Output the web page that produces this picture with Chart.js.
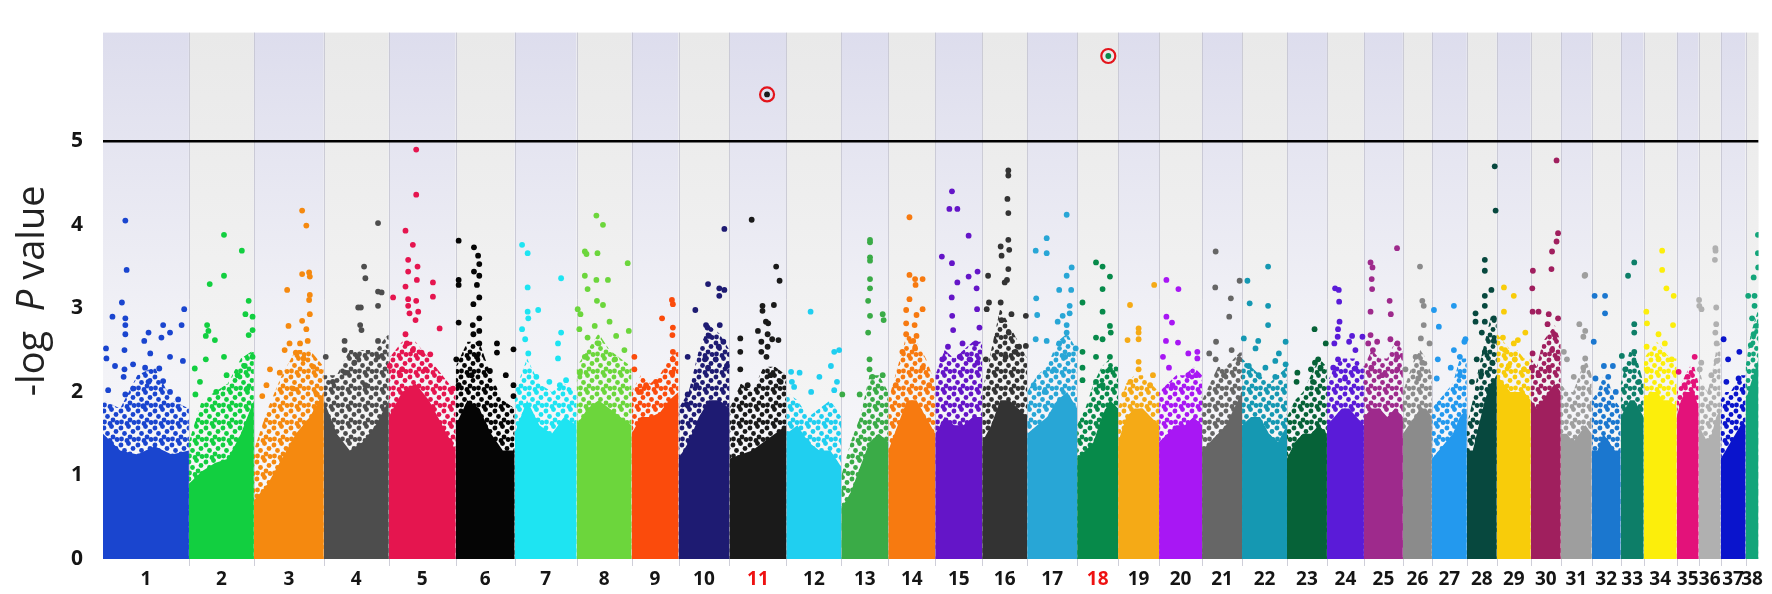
<!DOCTYPE html>
<html>
<head>
<meta charset="utf-8">
<script src="https://cdn.jsdelivr.net/npm/chart.js@4.4.1/dist/chart.umd.min.js"></script>
<style>
  html, body { margin: 0; padding: 0; background: #fff; }
  canvas { display: block; }
</style>
</head>
<body>
<canvas id="manhattan" width="1772" height="594"></canvas>
<script>
// chromosome names, relative lengths (axis units) and colours
const chromNames = ['1','2','3','4','5','6','7','8','9','10','11','12','13','14','15','16','17','18','19','20',
  '21','22','23','24','25','26','27','28','29','30','31','32','33','34','35','36','37','38'];
const chromLengths = [86,65,70,65,67,59,62,55,47,51,57,55,47,47,47,45,50,41,41,43,
  40,45,40,37,39,29,35,30,34,30,31,29,23,33,22,22,25,13];
const chromColors = ['#1a45cf','#12cf40','#f5890f','#4d4d4d','#e5154f','#050505','#1ee4f2','#6cd63c','#fb4b0c','#1e1b72',
  '#1a1a1a','#20cff0','#3aab47','#f77a10','#6415c8','#333333','#28a6d6','#078a4a','#f5aa16','#a817f4',
  '#666666','#1598b2','#066238','#5a1bd8','#9e2a8c','#8b8b8b','#2399ee','#07483e','#f8cc0a','#a01f5e',
  '#9e9e9e','#1b77cf','#0d7e68','#fcee0b','#e3127a','#b0b0b0','#0a14cc','#13a57a'];

// -log P level up to which the SNP cloud is solid (read at 6 even steps across each chromosome)
const massTop = [
  [1.5,1.3,1.25,1.35,1.25,1.3],[0.9,1.05,1.15,1.2,1.5,1.9],[0.7,0.9,1.2,1.5,1.7,2.0],[1.9,1.5,1.3,1.4,1.6,1.9],
  [1.7,2.0,2.1,1.9,1.6,1.3],[1.6,1.9,1.8,1.5,1.3,1.3],[1.5,1.9,1.6,1.5,1.7,1.6],[1.6,1.8,1.9,1.8,1.7,1.6],
  [1.5,1.7,1.7,1.75,1.9,2.0],[1.2,1.4,1.7,1.9,1.9,1.8],[1.2,1.25,1.3,1.4,1.5,1.6],[1.5,1.6,1.4,1.3,1.3,1.1],
  [0.6,0.8,1.1,1.4,1.5,1.4],[1.3,1.6,1.9,1.9,1.7,1.5],[1.5,1.7,1.6,1.6,1.7,1.7],[1.4,1.6,1.9,1.9,1.8,1.7],
  [1.5,1.6,1.7,1.9,2.0,1.8],[1.2,1.3,1.4,1.7,1.9,1.8],[1.4,1.7,1.8,1.8,1.7,1.6],[1.4,1.5,1.6,1.6,1.7,1.6],
  [1.3,1.4,1.5,1.6,1.8,2.0],[1.6,1.7,1.7,1.5,1.4,1.6],[1.2,1.4,1.5,1.5,1.6,1.5],[1.6,1.7,1.8,1.8,1.7,1.6],
  [1.7,1.8,1.8,1.7,1.8,1.7],[1.5,1.6,1.7,1.8,1.8,1.7],[1.2,1.3,1.4,1.5,1.7,1.8],[1.3,1.3,1.6,1.9,2.1,2.2],
  [2.2,2.1,2.0,2.0,2.0,1.9],[1.9,1.8,1.9,2.0,2.1,2.0],[1.5,1.5,1.4,1.5,1.6,1.5],[1.3,1.3,1.5,1.4,1.3,1.3],
  [1.7,1.8,1.9,1.9,1.8,1.7],[1.9,2.0,2.0,1.9,1.9,1.8],[1.7,1.9,2.0,2.0,2.0,1.8],[1.6,1.5,1.4,1.5,1.7,1.8],
  [1.2,1.3,1.4,1.5,1.6,1.6],[1.9,2.0,2.1,2.2,2.3,2.4]
];
// -log P level up to which the cloud is still dense
const cloudTop = [
  [1.9,1.8,2.2,2.3,1.9,1.8],[1.4,1.9,2.0,2.1,2.4,2.5],[1.3,1.8,2.2,2.5,2.5,2.3],[2.2,2.2,2.5,2.5,2.5,2.7],
  [2.4,2.6,2.6,2.4,2.2,2.0],[2.3,2.6,2.6,2.2,1.9,1.8],[2.0,2.4,2.1,2.0,2.1,2.0],[2.3,2.5,2.7,2.5,2.4,2.3],
  [2.0,2.2,2.1,2.2,2.4,2.5],[1.8,2.0,2.5,2.8,2.7,2.5],[1.8,2.1,2.0,2.3,2.3,2.2],[2.0,1.9,1.7,1.8,1.9,1.7],
  [1.0,1.4,1.7,2.2,2.2,2.0],[1.9,2.3,2.7,2.6,2.4,2.1],[2.2,2.5,2.4,2.5,2.6,2.6],[2.0,2.5,3.0,2.8,2.6,2.4],
  [2.0,2.2,2.3,2.6,2.7,2.5],[1.6,1.8,2.1,2.3,2.4,2.3],[1.8,2.1,2.2,2.2,2.1,2.0],[2.0,2.1,2.2,2.2,2.3,2.2],
  [1.9,2.1,2.3,2.3,2.4,2.5],[2.4,2.3,2.2,2.1,2.2,2.3],[1.7,1.9,2.0,2.2,2.4,2.3],[2.1,2.3,2.4,2.4,2.4,2.3],
  [2.3,2.5,2.4,2.4,2.6,2.5],[2.0,2.2,2.4,2.5,2.4,2.2],[1.8,1.9,2.0,2.1,2.4,2.4],[1.6,1.9,2.3,2.6,2.9,2.9],
  [2.7,2.6,2.5,2.5,2.4,2.4],[2.4,2.3,2.6,2.7,2.8,2.6],[2.1,2.0,2.0,2.2,2.4,2.2],[1.9,2.0,2.2,2.1,1.9,1.8],
  [2.1,2.3,2.5,2.5,2.3,2.1],[2.4,2.5,2.6,2.5,2.4,2.4],[2.0,2.1,2.2,2.3,2.3,2.1],[2.3,2.1,2.0,2.2,2.5,2.6],
  [1.9,2.0,2.0,2.1,2.2,2.2],[2.3,2.5,2.7,2.8,2.9,3.0]
];
// individual SNPs above the cloud: [position as fraction of chromosome, -log P]
const hits = [
  [[0.26,4.05],[0.275,3.46],[0.22,3.07],[0.11,2.90],[0.26,2.88],[0.26,2.80],[0.945,2.99],[0.70,2.80],[0.915,2.80],[0.53,2.71],[0.78,2.71],[0.26,2.69],[0.48,2.61],[0.68,2.65],[0.035,2.52],[0.78,2.42],[0.93,2.37],[0.55,2.46],[0.25,2.50],[0.04,2.40],[0.14,2.31],[0.35,2.33],[0.655,2.28],[0.25,2.27],[0.49,2.29],[0.24,2.18],[0.53,2.12],[0.70,2.13],[0.06,2.02],[0.35,2.04],[0.78,2.00],[0.26,1.97],[0.47,1.83],[0.875,1.91]],
  [[0.54,3.88],[0.815,3.69],[0.54,3.39],[0.32,3.29],[0.92,3.09],[0.87,2.93],[0.98,2.90],[0.28,2.80],[0.30,2.73],[0.26,2.67],[0.40,2.62],[0.98,2.74],[0.92,2.68],[0.54,2.42],[0.98,2.42],[0.26,2.39],[0.09,2.28],[0.86,2.31],[0.58,2.20],[0.17,2.12],[0.75,2.20],[0.10,1.97],[0.42,2.00],[0.90,2.04]],
  [[0.69,4.17],[0.75,3.99],[0.69,3.41],[0.79,3.43],[0.80,3.38],[0.476,3.22],[0.80,3.16],[0.79,3.10],[0.80,2.93],[0.69,2.85],[0.495,2.79],[0.75,2.75],[0.77,2.61],[0.51,2.58],[0.66,2.58],[0.44,2.50],[0.60,2.47],[0.71,2.40],[0.23,2.27],[0.37,2.23],[0.85,2.30],[0.18,2.08],[0.56,2.04],[0.12,1.95],[0.90,1.97]],
  [[0.835,4.02],[0.62,3.50],[0.64,3.36],[0.835,3.20],[0.89,3.19],[0.53,3.01],[0.57,3.01],[0.835,3.03],[0.58,2.74],[0.56,2.80],[0.32,2.61],[0.835,2.61],[0.32,2.50],[0.52,2.42],[0.03,2.42],[0.47,2.35],[0.835,2.42],[0.33,2.23],[0.14,2.12],[0.64,2.08]],
  [[0.41,4.90],[0.41,4.36],[0.25,3.93],[0.36,3.76],[0.29,3.58],[0.29,3.44],[0.43,3.50],[0.42,3.34],[0.25,3.26],[0.66,3.31],[0.66,3.14],[0.065,3.13],[0.29,3.11],[0.41,3.09],[0.29,3.03],[0.31,2.94],[0.44,2.96],[0.40,2.86],[0.76,2.76],[0.25,2.69],[0.27,2.58],[0.36,2.50],[0.49,2.47],[0.62,2.45],[0.015,2.31],[0.20,2.27],[0.55,2.27],[0.76,2.16],[0.96,2.04],[0.17,2.20]],
  [[0.05,3.81],[0.31,3.73],[0.38,3.63],[0.40,3.53],[0.31,3.44],[0.40,3.39],[0.05,3.34],[0.05,3.28],[0.36,3.28],[0.40,3.13],[0.30,3.05],[0.05,2.83],[0.29,2.80],[0.40,2.88],[0.40,2.73],[0.30,2.69],[0.40,2.58],[0.70,2.58],[0.98,2.51],[0.70,2.47],[0.01,2.39],[0.36,2.42],[0.85,2.20],[0.98,2.08],[0.27,2.20],[0.58,2.25],[0.05,2.08],[0.98,1.95]],
  [[0.12,3.76],[0.21,3.66],[0.75,3.36],[0.21,3.25],[0.21,2.96],[0.38,2.98],[0.22,2.88],[0.12,2.75],[0.75,2.71],[0.17,2.63],[0.70,2.58],[0.22,2.46],[0.70,2.40],[0.83,2.14],[0.56,2.12],[0.73,2.08],[0.35,2.18]],
  [[0.36,4.11],[0.48,4.00],[0.15,3.68],[0.18,3.65],[0.38,3.66],[0.93,3.54],[0.15,3.39],[0.36,3.34],[0.57,3.34],[0.20,3.23],[0.37,3.09],[0.48,3.04],[0.02,2.99],[0.07,2.93],[0.33,2.79],[0.60,2.84],[0.95,2.73],[0.05,2.75],[0.20,2.65],[0.72,2.67],[0.40,2.58],[0.87,2.50],[0.15,2.42],[0.70,2.39],[0.06,2.23]],
  [[0.88,3.05],[0.86,3.10],[0.65,2.88],[0.88,2.77],[0.87,2.68],[0.88,2.48],[0.88,2.39],[0.87,2.23],[0.06,2.42],[0.06,2.27],[0.31,2.08],[0.52,2.12],[0.20,2.00]],
  [[0.90,3.95],[0.58,3.29],[0.80,3.24],[0.90,3.22],[0.80,3.15],[0.33,2.98],[0.54,2.80],[0.57,2.77],[0.81,2.80],[0.60,2.67],[0.88,2.60],[0.79,2.54],[0.18,2.42],[0.52,2.39],[0.73,2.39],[0.58,2.29],[0.95,2.31],[0.18,1.97],[0.16,1.85],[0.35,2.08]],
  [[0.66,5.56],[0.39,4.06],[0.82,3.50],[0.88,3.33],[0.78,3.04],[0.58,3.03],[0.58,2.97],[0.64,2.84],[0.68,2.82],[0.50,2.73],[0.67,2.69],[0.75,2.63],[0.86,2.62],[0.19,2.64],[0.19,2.48],[0.56,2.60],[0.67,2.54],[0.56,2.48],[0.65,2.42],[0.19,2.27],[0.72,2.20],[0.90,2.12],[0.32,2.08]],
  [[0.44,2.96],[0.87,2.48],[0.96,2.50],[0.81,2.31],[0.085,2.24],[0.24,2.23],[0.10,2.12],[0.14,2.06],[0.60,2.18],[0.92,2.12],[0.87,2.02],[0.45,2.00]],
  [[0.61,3.82],[0.61,3.79],[0.61,3.61],[0.61,3.57],[0.61,3.35],[0.61,3.24],[0.57,3.09],[0.61,2.91],[0.88,2.93],[0.90,2.86],[0.57,2.71],[0.60,2.39],[0.60,2.27],[0.66,2.18],[0.88,2.20],[0.02,1.97],[0.39,1.97]],
  [[0.45,4.09],[0.45,3.40],[0.57,3.35],[0.73,3.35],[0.58,3.28],[0.45,3.11],[0.73,2.99],[0.38,2.98],[0.60,2.92],[0.38,2.82],[0.56,2.80],[0.38,2.69],[0.60,2.67],[0.53,2.61],[0.30,2.48],[0.57,2.52],[0.73,2.29],[0.16,2.08],[0.87,2.08]],
  [[0.355,4.40],[0.30,4.19],[0.47,4.19],[0.71,3.87],[0.14,3.62],[0.355,3.54],[0.90,3.44],[0.71,3.38],[0.47,3.31],[0.88,3.24],[0.35,3.13],[0.89,2.99],[0.36,2.91],[0.94,2.77],[0.38,2.74],[0.58,2.58],[0.86,2.58],[0.27,2.54],[0.52,2.42],[0.15,2.39],[0.73,2.39],[0.90,2.35]],
  [[0.58,4.65],[0.58,4.59],[0.56,4.31],[0.58,4.14],[0.58,3.82],[0.41,3.74],[0.60,3.70],[0.43,3.63],[0.58,3.47],[0.55,3.34],[0.50,3.31],[0.13,3.39],[0.15,3.07],[0.41,3.07],[0.97,2.91],[0.65,2.93],[0.10,2.99],[0.43,2.86],[0.59,2.71],[0.82,2.54],[0.97,2.55],[0.08,2.39],[0.52,2.42],[0.74,2.48]],
  [[0.79,4.12],[0.39,3.84],[0.17,3.69],[0.39,3.66],[0.89,3.49],[0.79,3.39],[0.64,3.22],[0.88,3.22],[0.18,3.12],[0.85,3.03],[0.85,2.94],[0.20,2.92],[0.71,2.91],[0.61,2.84],[0.79,2.80],[0.17,2.63],[0.39,2.61],[0.79,2.71],[0.64,2.58],[0.97,2.52],[0.76,2.42],[0.54,2.27],[0.13,2.08],[0.35,2.00]],
  [[0.76,6.02],[0.46,3.55],[0.62,3.50],[0.80,3.38],[0.62,3.23],[0.13,3.07],[0.62,2.96],[0.80,2.79],[0.82,2.71],[0.46,2.65],[0.62,2.63],[0.13,2.48],[0.46,2.42],[0.80,2.42],[0.13,2.29],[0.80,2.27],[0.13,2.14],[0.46,2.12],[0.62,2.08]],
  [[0.88,3.28],[0.29,3.04],[0.50,2.76],[0.50,2.71],[0.50,2.63],[0.23,2.62],[0.50,2.36],[0.50,2.27],[0.85,2.20],[0.30,2.12],[0.78,2.08],[0.15,1.97]],
  [[0.17,3.34],[0.45,3.23],[0.17,2.90],[0.30,2.83],[0.16,2.61],[0.44,2.59],[0.68,2.46],[0.89,2.48],[0.89,2.40],[0.09,2.42],[0.23,2.29],[0.68,2.20],[0.86,2.20],[0.31,2.08]],
  [[0.34,3.68],[0.33,3.25],[0.35,2.60],[0.18,2.46],[0.34,2.39],[0.94,3.33],[0.72,3.12],[0.68,2.90],[0.74,2.50],[0.93,2.39],[0.55,2.20]],
  [[0.58,3.50],[0.12,3.33],[0.17,3.06],[0.58,3.03],[0.58,2.80],[0.04,2.64],[0.36,2.61],[0.97,2.60],[0.30,2.52],[0.82,2.46],[0.74,2.37],[0.15,2.31],[0.52,2.29],[0.97,2.33],[0.37,2.20],[0.74,2.18]],
  [[0.69,2.75],[0.97,2.58],[0.78,2.39],[0.70,2.35],[0.26,2.23],[0.60,2.27],[0.84,2.29],[0.24,2.12],[0.65,2.12]],
  [[0.22,3.24],[0.32,3.22],[0.33,3.08],[0.34,2.84],[0.30,2.75],[0.29,2.66],[0.68,2.67],[0.96,2.66],[0.20,2.58],[0.60,2.60],[0.77,2.50],[0.30,2.39],[0.77,2.28],[0.17,2.29],[0.49,2.16]],
  [[0.85,3.72],[0.17,3.55],[0.22,3.49],[0.20,3.35],[0.21,3.23],[0.66,3.09],[0.17,2.96],[0.69,2.93],[0.17,2.68],[0.34,2.60],[0.68,2.63],[0.86,2.58],[0.11,2.58],[0.86,2.42],[0.23,2.50],[0.19,2.29],[0.86,2.27],[0.47,2.20]],
  [[0.59,3.50],[0.67,3.09],[0.72,3.03],[0.72,2.80],[0.62,2.64],[0.92,2.58],[0.44,2.42],[0.67,2.35],[0.09,2.27],[0.53,2.16]],
  [[0.06,2.98],[0.63,3.03],[0.20,2.78],[0.96,2.63],[0.93,2.60],[0.63,2.50],[0.17,2.39],[0.80,2.42],[0.54,2.29],[0.80,2.20],[0.14,2.16]],
  [[0.93,4.70],[0.96,4.17],[0.60,3.58],[0.60,3.45],[0.82,3.22],[0.60,3.15],[0.60,3.03],[0.29,2.94],[0.29,2.84],[0.60,2.84],[0.90,2.88],[0.50,2.71],[0.90,2.61],[0.60,2.48],[0.33,2.39],[0.85,2.35],[0.48,2.21],[0.17,2.12]],
  [[0.21,3.25],[0.50,3.15],[0.21,2.96],[0.18,2.65],[0.84,2.71],[0.50,2.58],[0.62,2.62],[0.24,2.50],[0.53,2.39],[0.35,2.31],[0.80,2.27]],
  [[0.86,4.77],[0.91,3.90],[0.86,3.80],[0.71,3.68],[0.07,3.45],[0.69,3.47],[0.05,3.24],[0.06,2.96],[0.26,2.96],[0.60,2.93],[0.91,2.88],[0.56,2.81],[0.78,2.69],[0.71,2.50],[0.06,2.46],[0.89,2.40],[0.04,2.29],[0.60,2.29],[0.26,2.20]],
  [[0.77,3.39],[0.79,3.40],[0.60,2.81],[0.79,2.73],[0.73,2.66],[0.10,2.48],[0.20,2.39],[0.79,2.40],[0.73,2.29],[0.42,2.18]],
  [[0.10,3.15],[0.46,3.15],[0.46,2.94],[0.07,2.60],[0.42,2.31],[0.73,2.31],[0.57,2.18],[0.13,2.16],[0.83,2.00]],
  [[0.59,3.55],[0.32,3.39],[0.59,2.81],[0.59,2.71],[0.05,2.43],[0.59,2.48],[0.59,2.35],[0.20,2.27],[0.80,2.12]],
  [[0.56,3.69],[0.56,3.46],[0.69,3.24],[0.91,3.15],[0.08,2.96],[0.10,2.82],[0.89,2.80],[0.45,2.69],[0.09,2.54],[0.64,2.58],[0.45,2.39],[0.85,2.39],[0.12,2.27]],
  [[0.82,2.42],[0.09,2.24],[0.50,2.18],[0.77,2.12],[0.36,2.08]],
  [[0.76,3.72],[0.77,3.69],[0.74,3.58],[0.02,3.10],[0.03,3.03],[0.13,2.99],[0.80,3.01],[0.80,2.81],[0.76,2.71],[0.82,2.58],[0.12,2.35],[0.82,2.37],[0.05,2.27],[0.58,2.20]],
  [[0.12,2.63],[0.75,2.48],[0.30,2.39],[0.72,2.16],[0.23,2.12]],
  [[0.95,3.88],[0.95,3.66],[0.97,3.49],[0.62,3.37],[0.69,3.15],[0.69,3.03],[0.20,3.15],[0.50,2.88],[0.85,2.79],[0.62,2.69],[0.40,2.56]]
];
const threshold = 5;
const highlighted = ['11', '18'];
const yTicks = [0, 1, 2, 3, 4, 5];

const FONT = "'Open Sans', 'DejaVu Sans', sans-serif";

const starts = [];
let total = 0;
chromLengths.forEach(l => { starts.push(total); total += l; });

const canvas = document.getElementById('manhattan');
const ctx = canvas.getContext('2d');

function profile(i, arr) {
  const n = arr.length - 1;
  return arr.map((v, k) => ({ x: starts[i] + chromLengths[i] * k / n, y: v }));
}

// speckled texture that suggests the dense but broken part of each cloud
const speckle = [[2, 3], [9.5, 1.5], [14, 6.5], [5.5, 8.5], [11, 12], [2.5, 14], [8, 15.5], [15, 14.5]];
function dotPattern(color) {
  const tile = document.createElement('canvas');
  tile.width = 17; tile.height = 17;
  const g = tile.getContext('2d');
  g.fillStyle = color;
  speckle.forEach(p => {
    [-17, 0, 17].forEach(dx => [-17, 0, 17].forEach(dy => {
      g.beginPath(); g.arc(p[0] + dx, p[1] + dy, 2.4, 0, Math.PI * 2); g.fill();
    }));
  });
  return ctx.createPattern(tile, 'repeat');
}

const datasets = [];
const rings = [];
highlighted.forEach(name => {
  const i = chromNames.indexOf(name);
  const top = hits[i].reduce((a, b) => (b[1] > a[1] ? b : a));
  rings.push({ x: starts[i] + top[0] * chromLengths[i], y: top[1] });
});
datasets.push({
  type: 'scatter', data: rings, pointRadius: 7, pointBorderWidth: 2.2,
  pointBackgroundColor: 'rgba(0,0,0,0)', pointBorderColor: '#e3141b', order: 0
});
datasets.push({
  type: 'line', data: [{ x: 0, y: threshold }, { x: total, y: threshold }],
  borderColor: '#000', borderWidth: 2.5, pointRadius: 0, fill: false, order: 1
});
chromNames.forEach((name, i) => {
  const col = chromColors[i];
  datasets.push({
    type: 'scatter',
    data: hits[i].map(h => ({ x: starts[i] + h[0] * chromLengths[i], y: h[1] })),
    pointRadius: 2.9, pointBorderWidth: 0, pointBackgroundColor: col, order: 2
  });
  datasets.push({
    type: 'line', data: profile(i, massTop[i]), fill: 'origin', backgroundColor: col,
    borderColor: 'rgba(0,0,0,0)', borderWidth: 0, pointRadius: 0, tension: 0, order: 3
  });
  datasets.push({
    type: 'line', data: profile(i, cloudTop[i]), fill: 'origin', backgroundColor: dotPattern(col),
    borderColor: 'rgba(0,0,0,0)', borderWidth: 0, pointRadius: 0, tension: 0, order: 4
  });
});

const stripes = {
  id: 'stripes',
  beforeDatasetsDraw(chart) {
    const c = chart.ctx, a = chart.chartArea, x = chart.scales.x;
    c.save();
    starts.forEach((st, i) => {
      const x0 = x.getPixelForValue(st), x1 = x.getPixelForValue(st + chromLengths[i]);
      const g = c.createLinearGradient(0, a.top, 0, a.bottom);
      if (i % 2 === 0) {
        g.addColorStop(0, '#dddded'); g.addColorStop(0.55, '#f1f1f6'); g.addColorStop(1, '#fafafb');
      } else {
        g.addColorStop(0, '#e9e9e9'); g.addColorStop(0.55, '#f2f2f2'); g.addColorStop(1, '#f8f8f8');
      }
      c.fillStyle = g;
      c.fillRect(x0, a.top, x1 - x0, a.bottom - a.top);
    });
    c.strokeStyle = 'rgba(195,195,208,0.8)';
    c.lineWidth = 1;
    starts.slice(1).forEach(st => {
      const px = Math.round(x.getPixelForValue(st)) + 0.5;
      c.beginPath(); c.moveTo(px, a.top); c.lineTo(px, a.bottom + 7); c.stroke();
    });
    c.restore();
  }
};

const yTitle = {
  id: 'yTitle',
  afterDraw(chart) {
    const c = chart.ctx, a = chart.chartArea;
    const parts = [['-log  ', 'normal'], ['P', 'italic'], [' value', 'normal']];
    c.save();
    c.translate(33, (a.top + a.bottom) / 2 - 5);
    c.rotate(-Math.PI / 2);
    c.fillStyle = '#222';
    c.textBaseline = 'middle';
    let w = 0;
    parts.forEach(p => { c.font = p[1] + ' 38px ' + FONT; w += c.measureText(p[0]).width; });
    let px = -w / 2;
    parts.forEach(p => {
      c.font = p[1] + ' 38px ' + FONT;
      c.fillText(p[0], px, 0);
      px += c.measureText(p[0]).width;
    });
    c.restore();
  }
};

new Chart(canvas, {
  type: 'scatter',
  data: { datasets: datasets },
  options: {
    responsive: false,
    animation: false,
    devicePixelRatio: 1,
    layout: { padding: { left: 0, right: 12, top: 7, bottom: 0 } },
    plugins: { legend: { display: false }, tooltip: { enabled: false } },
    scales: {
      x: {
        type: 'linear', min: 0, max: total,
        grid: { display: false, drawTicks: false },
        border: { display: false },
        afterBuildTicks: s => { s.ticks = starts.map((st, i) => ({ value: st + chromLengths[i] / 2 })); },
        afterFit: s => { s.height = 35; },
        ticks: {
          autoSkip: false, maxRotation: 0, padding: 9,
          font: { family: FONT, size: 19, weight: 'bold' },
          color: c => (highlighted.includes(chromNames[c.index]) ? '#ee1111' : '#151515'),
          callback: (v, idx) => chromNames[idx]
        }
      },
      y: {
        min: 0, max: 6.3,
        grid: { display: false, drawTicks: false },
        border: { display: false },
        afterBuildTicks: s => { s.ticks = yTicks.map(v => ({ value: v })); },
        afterFit: s => { s.width = 103; },
        ticks: {
          padding: 20, color: '#151515',
          font: { family: FONT, size: 21, weight: 'bold' }
        }
      }
    }
  },
  plugins: [stripes, yTitle]
});
</script>
</body>
</html>
